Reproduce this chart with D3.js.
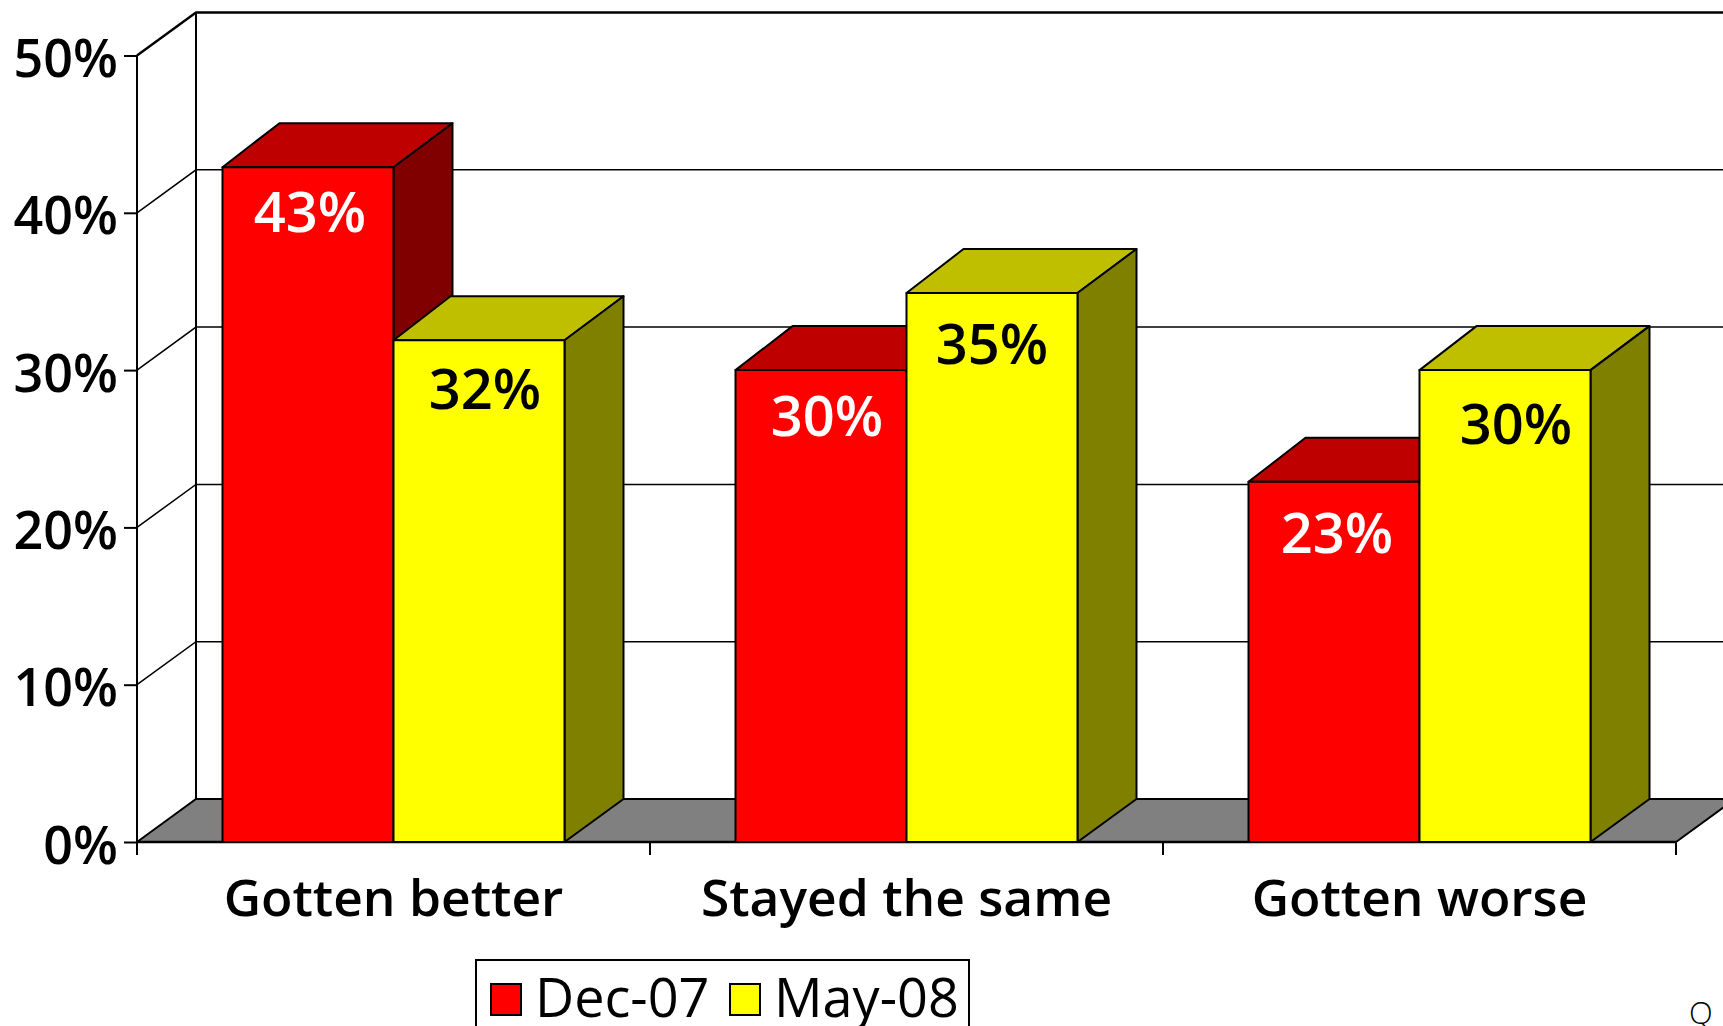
<!DOCTYPE html>
<html><head><meta charset="utf-8">
<script src="https://cdn.jsdelivr.net/npm/d3@7"></script>
<style>html,body{margin:0;padding:0;background:#fff;overflow:hidden}svg{display:block}text{font-family:"Open Sans",sans-serif;font-weight:600}</style>
</head><body><div id="chart"></div>
<script>
const categories = ["Gotten better", "Stayed the same", "Gotten worse"];
const seriesNames = ["Dec-07", "May-08"];
const dec07 = [42.9, 30, 22.9];
const may08 = [31.9, 34.9, 30];
const yTicks = [0, 10, 20, 30, 40, 50];

const W = 1723, H = 1026, dx = 59, dy = 43, barDy = 44;
const svg = d3.select("#chart").append("svg").attr("width", W).attr("height", H);
const x = d3.scaleBand().domain(categories).range([137, 1676]).paddingInner(1/3).paddingOuter(1/6);
const xs = d3.scaleBand().domain(seriesNames).range([0, x.bandwidth()]);
const y = d3.scaleLinear().domain([0, 50]).range([842, 55.5]);
const y0 = y(0), pct = d => Math.round(d) + "%";
const K = "#000";

// floor
svg.append("path").attr("d", `M${137},${y0}L${137+dx},${y0-dy}L${W+20},${y0-dy}L${1676+dx},${y0-dy}L${1676},${y0}Z`)
  .attr("fill", "#808080");
svg.append("path").attr("d", `M137,${y0}L${137+dx},${y0-dy}L${W},${y0-dy}M1676,${y0}L${1676+dx},${y0-dy}`)
  .attr("fill", "none").attr("stroke", K).attr("stroke-width", 2);

// wall grid
svg.selectAll(".grid").data(yTicks.slice(1)).join("path")
  .attr("d", d => `M137,${y(d)}L${137+dx},${y(d)-dy}L${W},${y(d)-dy}`)
  .attr("fill", "none").attr("stroke", K).attr("stroke-width", d => d === 50 ? 2.4 : 1.5);
svg.append("line").attr("x1", 137+dx).attr("x2", 137+dx).attr("y1", y(50)-dy).attr("y2", y0-dy).attr("stroke", K).attr("stroke-width", 2);

// axes
const ax = svg.append("g").attr("transform", "translate(137,0)")
  .call(d3.axisLeft(y).tickValues(yTicks).tickSize(13).tickPadding(6).tickFormat(d => d + "%"));
ax.selectAll("text").attr("font-size", 52).attr("fill", K).attr("dy", "0").attr("y", 21).style("font-family", '"Open Sans",sans-serif').attr("font-weight", 600);
ax.selectAll("line").attr("stroke", K).attr("stroke-width", 2);
ax.select(".domain").attr("stroke", K).attr("stroke-width", 2).attr("d", `M0,${y(50)}V${y0+13}`);

const bx = svg.append("g").attr("transform", `translate(0,${y0})`);
bx.append("line").attr("x1", 137).attr("x2", 1676).attr("stroke", K).attr("stroke-width", 2.4);
bx.selectAll(".t").data(d3.range(categories.length + 1)).join("line")
  .attr("x1", i => 137 + i * x.step()).attr("x2", i => 137 + i * x.step()).attr("y2", 13).attr("stroke", K).attr("stroke-width", 2);
bx.selectAll(".c").data(categories).join("text")
  .attr("x", d => x(d) + x.bandwidth()/2).attr("y", 74).attr("text-anchor", "middle")
  .attr("font-size", 51.5).attr("fill", K).text(d => d);

// bars
const colors = {"Dec-07": ["#ff0000", "#bf0000", "#800000", "#fff"], "May-08": ["#ffff00", "#bfbf00", "#808000", "#000"]};
const rows = categories.flatMap((c, i) => [
  {c, s: "Dec-07", v: dec07[i]}, {c, s: "May-08", v: may08[i]}]);
const g = svg.append("g").selectAll("g").data(rows).join("g")
  .attr("stroke", K).attr("stroke-width", 2).attr("stroke-linejoin", "round");
const L = d => x(d.c) + xs(d.s), R = d => L(d) + xs.bandwidth();
g.append("path").attr("fill", d => colors[d.s][1])
  .attr("d", d => `M${L(d)},${y(d.v)}L${L(d)+dx-2},${y(d.v)-barDy}L${R(d)+dx},${y(d.v)-barDy}L${R(d)},${y(d.v)}Z`);
g.append("path").attr("fill", d => colors[d.s][2])
  .attr("d", d => `M${R(d)},${y(d.v)}L${R(d)+dx},${y(d.v)-barDy}L${R(d)+dx},${y0-dy}L${R(d)},${y0}Z`);
g.append("rect").attr("fill", d => colors[d.s][0])
  .attr("x", L).attr("y", d => y(d.v)).attr("width", xs.bandwidth()).attr("height", d => y0 - y(d.v));

// value labels (offset from each bar's front-top edge)
const nudgeX = [2, 6, 6, 0, 3, 11], nudgeY = [65, 69, 66, 71, 71, 74];
svg.append("g").selectAll("text").data(rows).join("text")
  .attr("x", (d, i) => (L(d) + R(d))/2 + nudgeX[i]).attr("y", (d, i) => y(d.v) + nudgeY[i])
  .attr("text-anchor", "middle").attr("font-size", 56).attr("fill", d => colors[d.s][3]).text(d => pct(d.v));

// legend
const lg = svg.append("g");
lg.append("rect").attr("x", 476).attr("y", 960).attr("width", 493).attr("height", 90).attr("fill", "#fff").attr("stroke", K).attr("stroke-width", 2);
const lx = d3.scaleOrdinal().domain(seriesNames).range([491, 730]);
lg.selectAll("rect.s").data(seriesNames).join("rect").attr("class", "s")
  .attr("x", d => lx(d)).attr("y", 984).attr("width", 30).attr("height", 31)
  .attr("fill", d => colors[d][0]).attr("stroke", K).attr("stroke-width", 2);
lg.selectAll("text").data(seriesNames).join("text")
  .attr("x", d => lx(d) + 44).attr("y", 1017).attr("font-size", 54).attr("fill", K).style("font-weight", 500).text(d => d);

svg.append("text").attr("x", 1689).attr("y", 1024).attr("font-size", 31).attr("fill", K).style("font-weight", 300).text("Q");
</script></body></html>
